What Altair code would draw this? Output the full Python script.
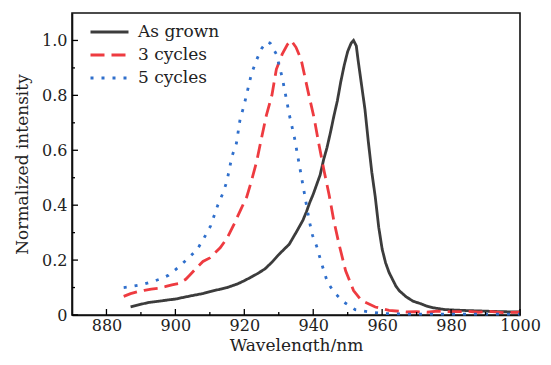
import altair as alt
import pandas as pd

# ---- data ----
grown_nm = [887, 889, 892, 895, 898, 900, 903, 905, 908, 910, 913, 915, 918, 920, 922, 924, 926, 928,
            930, 932, 933, 935, 937, 938, 939, 940, 941, 942, 943, 944, 945, 946, 947, 948, 949, 950,
            951, 951.7, 952.5, 953, 954, 955, 956, 957, 958, 959, 960, 961, 962, 963, 964, 965, 967,
            969, 971, 973, 975, 978, 981, 985, 990, 995, 1000]
grown_v = [0.030, 0.036, 0.045, 0.050, 0.055, 0.058, 0.066, 0.071, 0.078, 0.085, 0.094, 0.100, 0.113,
           0.125, 0.138, 0.152, 0.168, 0.192, 0.220, 0.245, 0.257, 0.300, 0.345, 0.375, 0.410, 0.440,
           0.475, 0.510, 0.565, 0.610, 0.665, 0.725, 0.780, 0.850, 0.910, 0.960, 0.990, 1.000, 0.980,
           0.930, 0.840, 0.750, 0.630, 0.520, 0.430, 0.320, 0.240, 0.190, 0.155, 0.130, 0.105, 0.088,
           0.066, 0.050, 0.042, 0.032, 0.026, 0.020, 0.018, 0.016, 0.014, 0.012, 0.011]

c3_nm = [885, 887, 889, 891, 893, 895, 897, 899, 901, 903, 904, 906, 908, 910, 911, 913, 915, 917, 919,
         920.7, 922, 923.6, 925, 926.4, 928, 929.3, 931, 932.5, 933.6, 935, 936.5, 938.4, 940.3, 941.7,
         943.2, 944.6, 946, 947.5, 949.4, 951.7, 954, 958, 962, 967, 970, 973, 976, 980, 985, 988, 991,
         995, 1000]
c3_v = [0.068, 0.078, 0.085, 0.090, 0.094, 0.097, 0.103, 0.110, 0.115, 0.130, 0.143, 0.170, 0.195, 0.208,
        0.220, 0.245, 0.280, 0.330, 0.385, 0.430, 0.485, 0.560, 0.645, 0.727, 0.800, 0.895, 0.950, 0.985,
        1.000, 0.975, 0.930, 0.820, 0.715, 0.618, 0.522, 0.438, 0.342, 0.257, 0.161, 0.089, 0.053, 0.029,
        0.017, 0.011, 0.012, 0.010, 0.014, 0.012, 0.013, 0.010, 0.013, 0.009, 0.010]

c5_nm = [885, 887, 890, 893, 896, 898, 901, 904, 906.4, 908.3, 910.2, 912.3, 914, 915, 916.4, 917.7,
         918.8, 919.8, 920.7, 922.1, 923.6, 925, 926.5, 927.5, 929.3, 931, 932.2, 933.1, 934.6, 935.8,
         937, 937.9, 938.9, 939.8, 941, 942.2, 944.1, 946, 948.9, 952.2, 956.5, 960.8, 965, 970, 980,
         990, 1000]
c5_v = [0.100, 0.103, 0.110, 0.120, 0.133, 0.145, 0.175, 0.210, 0.240, 0.280, 0.324, 0.400, 0.450, 0.490,
        0.577, 0.625, 0.715, 0.757, 0.805, 0.880, 0.930, 0.970, 0.995, 0.990, 0.950, 0.865, 0.787, 0.727,
        0.643, 0.558, 0.474, 0.410, 0.340, 0.290, 0.250, 0.197, 0.120, 0.083, 0.047, 0.019, 0.011, 0.005,
        0.004, 0.003, 0.003, 0.003, 0.003]

series = ["As grown", "3 cycles", "5 cycles"]
colors = ["#3c3c3c", "#ee3b40", "#2f6fcc"]
dashes = [[1, 0], [14, 7], [3, 8]]

x_major = [880, 900, 920, 940, 960, 980, 1000]
x_minor = [890, 910, 930, 950, 970, 990]
y_major = [0, 0.2, 0.4, 0.6, 0.8, 1.0]
y_minor = [0.1, 0.3, 0.5, 0.7, 0.9]

rows = []
for name, xs, vs in [(series[0], grown_nm, grown_v), (series[1], c3_nm, c3_v), (series[2], c5_nm, c5_v)]:
    for i, (a, b) in enumerate(zip(xs, vs)):
        rows.append({"nm": a, "v": b, "s": name, "o": i})
df = pd.DataFrame(rows)

W, H = 448, 302
FONT = "DejaVu Serif"

xscale = alt.Scale(domain=[870, 1000], nice=False, zero=False)
yscale = alt.Scale(domain=[0, 1.1], nice=False, zero=False)
xaxis = alt.Axis(values=x_major, format="d", labelFlush=False, labelPadding=2, titlePadding=4)
yaxis = alt.Axis(values=y_major, labelPadding=5, titlePadding=10, labelFlush=False,
                 labelExpr="datum.value == 0 ? '0' : format(datum.value, '.1f')")
XT = "Wavelength/nm"
YT = "Normalized intensity"

leg = alt.Legend(orient="none", legendX=26.5, legendY=8)

lines = alt.Chart(df).mark_line(strokeWidth=2.8, strokeCap="butt").encode(
    x=alt.X("nm:Q", scale=xscale, title=XT, axis=xaxis),
    y=alt.Y("v:Q", scale=yscale, title=YT, axis=yaxis),
    color=alt.Color("s:N", scale=alt.Scale(domain=series, range=colors), title=None, legend=leg),
    strokeDash=alt.StrokeDash("s:N", scale=alt.Scale(domain=series, range=dashes), title=None, legend=leg),
    order="o:Q",
)

xticks_major = alt.Chart(pd.DataFrame({"t": x_major})).mark_rule(color="black", strokeWidth=1.3).encode(
    x=alt.X("t:Q", scale=xscale, title=XT, axis=xaxis), y=alt.value(H), y2=alt.value(H - 6))
xticks_minor = alt.Chart(pd.DataFrame({"t": x_minor})).mark_rule(color="black", strokeWidth=1.3).encode(
    x=alt.X("t:Q", scale=xscale, title=XT, axis=xaxis), y=alt.value(H), y2=alt.value(H - 3))
yticks_major = alt.Chart(pd.DataFrame({"t": y_major})).mark_rule(color="black", strokeWidth=1.3).encode(
    y=alt.Y("t:Q", scale=yscale, title=YT, axis=yaxis), x=alt.value(0), x2=alt.value(6))
yticks_minor = alt.Chart(pd.DataFrame({"t": y_minor})).mark_rule(color="black", strokeWidth=1.3).encode(
    y=alt.Y("t:Q", scale=yscale, title=YT, axis=yaxis), x=alt.value(0), x2=alt.value(3))

chart = alt.layer(lines, xticks_major, xticks_minor, yticks_major, yticks_minor).properties(
    width=W, height=H,
    autosize=alt.AutoSizeParams(type="none"),
    padding={"left": 64, "top": 5, "right": 23, "bottom": 37},
).configure_view(
    stroke="#111111", strokeWidth=1.6
).configure_axis(
    grid=False, ticks=False, domain=True, domainColor="#111111", domainWidth=1.6,
    labelFont=FONT, labelFontSize=16, labelColor="#222222",
    titleFont=FONT, titleFontSize=17, titleFontWeight="normal", titleColor="#222222",
).configure_legend(
    symbolType="M-2,0H2", symbolSize=361, symbolStrokeWidth=2.8, labelFont=FONT,
    labelFontSize=17, labelColor="#222222", padding=0, rowPadding=4, labelOffset=17.5,
)

chart.save("out.html", embed_options={"renderer": "svg", "actions": False})
